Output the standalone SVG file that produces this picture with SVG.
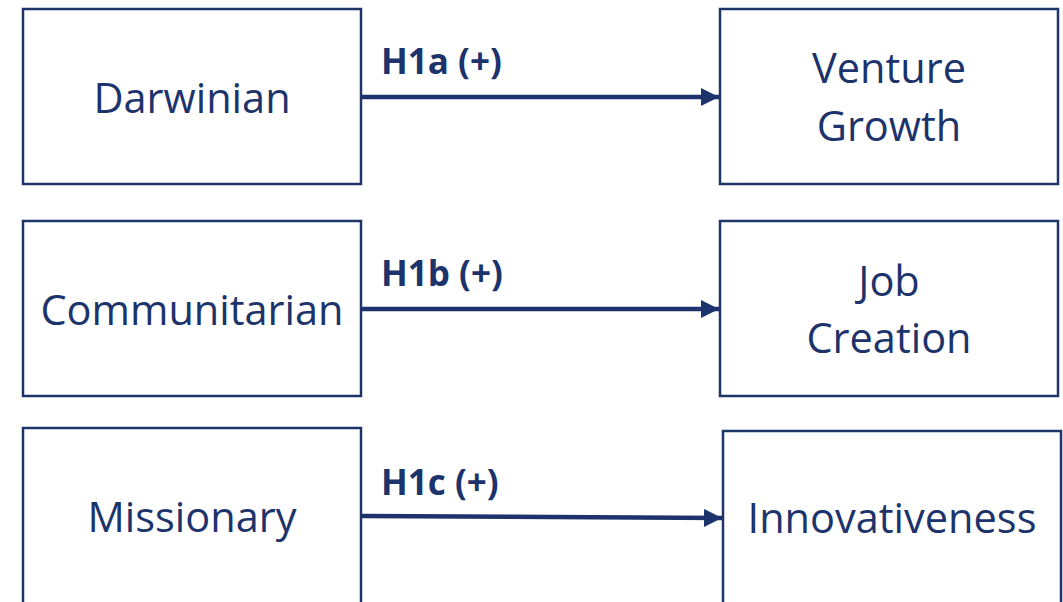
<svg xmlns="http://www.w3.org/2000/svg" width="1063" height="602" viewBox="0 0 1063 602">
<style>
.box{fill:#fff;stroke:#1e3568;stroke-width:2.5}
.t{font-family:"Open Sans","Liberation Sans",sans-serif;font-size:41.5px;fill:#1c336b;text-anchor:middle}
.l{font-family:"Open Sans","Liberation Sans",sans-serif;font-size:35px;font-weight:bold;fill:#1c336b}
.c{stroke:#1c336b;stroke-width:4.5;fill:none}
</style>
<defs>
<marker id="ah" viewBox="0 0 10 10" refX="10" refY="5" markerWidth="4" markerHeight="4" markerUnits="strokeWidth" orient="auto">
<path d="M0,0 L10,5 L0,10 Z" fill="#1c336b"/>
</marker>
</defs>
<rect width="1063" height="602" fill="#fff"/>
<g id="darwinian"><rect class="box" x="23" y="9" width="338" height="175"/><text class="t" x="192" y="113">Darwinian</text></g>
<g id="venture-growth"><rect class="box" x="720" y="9" width="338" height="175"/><text class="t" x="889" y="83">Venture</text><text class="t" x="889" y="141">Growth</text></g>
<g id="communitarian"><rect class="box" x="23" y="221" width="338" height="175"/><text class="t" x="192" y="325">Communitarian</text></g>
<g id="job-creation"><rect class="box" x="720" y="221" width="338" height="175"/><text class="t" x="889" y="296">Job</text><text class="t" x="889" y="353">Creation</text></g>
<g id="missionary"><rect class="box" x="23" y="428" width="338" height="200"/><text class="t" x="192" y="532">Missionary</text></g>
<g id="innovativeness"><rect class="box" x="723" y="431" width="338" height="200"/><text class="t" x="892" y="533">Innovativeness</text></g>
<g id="connectors">
<line class="c" x1="362" y1="97" x2="719" y2="97" marker-end="url(#ah)"/>
<text class="l" x="381" y="74">H1a (+)</text>
<line class="c" x1="362" y1="309" x2="719" y2="309" marker-end="url(#ah)"/>
<text class="l" x="381" y="286">H1b (+)</text>
<line class="c" x1="362" y1="516" x2="722" y2="518" marker-end="url(#ah)"/>
<text class="l" x="381" y="495">H1c (+)</text>
</g>
</svg>
